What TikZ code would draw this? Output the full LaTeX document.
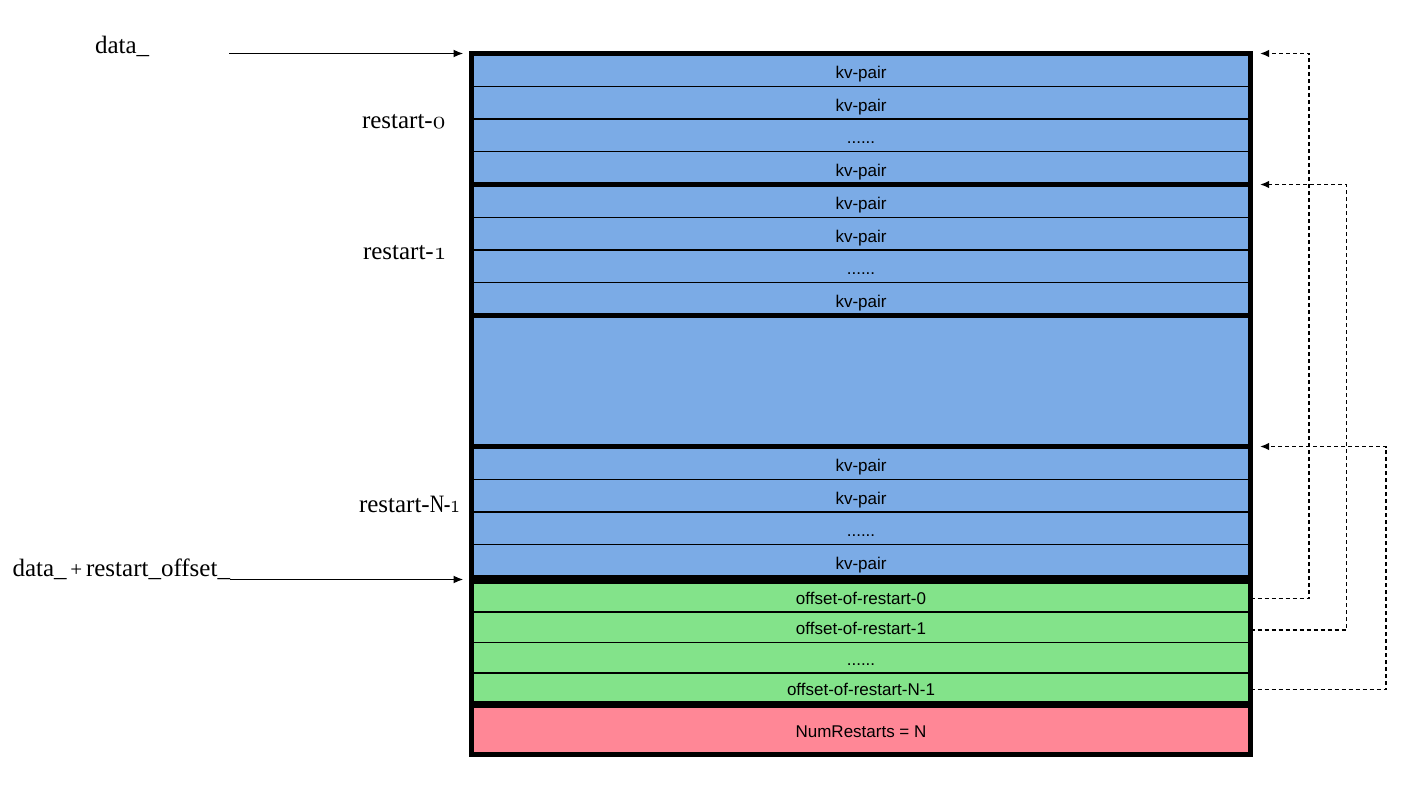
\documentclass[tikz,border=0pt]{standalone}
\usepackage{fontspec}
\newfontfamily\boxfont{Liberation Sans}
\newfontfamily\labelfont{Liberation Serif}
\usetikzlibrary{arrows.meta,calc}

\definecolor{kvblue}{RGB}{123,171,230}
\definecolor{offgreen}{RGB}{131,227,138}
\definecolor{numpink}{RGB}{255,135,150}

% old-style digits from the math italic font, freely scalable
\DeclareFontFamily{OML}{osd}{\skewchar\font=127}
\DeclareFontShape{OML}{osd}{m}{it}{<->cmmi10}{}
\newcommand\osdigit[1]{{\usefont{OML}{osd}{m}{it}#1}}

\tikzset{
  row/.style={rectangle, draw=black, line width=1.2pt, inner sep=0pt, outer sep=0pt,
    minimum width=779pt, anchor=north west, text height=15pt, text depth=0pt,
    font=\boxfont\fontsize{17}{20}\selectfont},
  kvrow/.style={row, fill=kvblue, minimum height=32.75pt, text height=17pt},
  offrow/.style={row, fill=offgreen, minimum height=30.5pt},
  blockbox/.style={rectangle, draw=black, line width=5pt, inner sep=0pt, outer sep=0pt,
    minimum width=779pt, anchor=north west},
  lbl/.style={inner sep=0pt, outer sep=0pt, font=\labelfont\fontsize{25}{28}\selectfont},
  ptr/.style={line width=1.8pt, -{Latex[length=10pt,width=8pt]}},
  dptr/.style={line width=1.5pt, dash pattern=on 4pt off 3pt, -{Latex[length=9pt,width=7.5pt]}}
}

\begin{document}
\begin{tikzpicture}[x=1pt, y=-1pt]
\useasboundingbox (0,0) rectangle (1418,798);

% restart-0 entries
\node[kvrow] (a0) at (471.5,53.5)   {kv-pair};
\node[kvrow] (a1) at (471.5,86.25)  {kv-pair};
\node[kvrow] (a2) at (471.5,119)    {......};
\node[kvrow] (a3) at (471.5,151.75) {kv-pair};
% restart-1 entries
\node[kvrow] (c0) at (471.5,184.5)  {kv-pair};
\node[kvrow] (c1) at (471.5,217.25) {kv-pair};
\node[kvrow] (c2) at (471.5,250)    {......};
\node[kvrow] (c3) at (471.5,282.75) {kv-pair};
% the restarts in between
\node[row, fill=kvblue, minimum height=131pt] (mid) at (471.5,315.5) {};
% restart-N-1 entries
\node[kvrow] (n0) at (471.5,446.5)  {kv-pair};
\node[kvrow] (n1) at (471.5,479.25) {kv-pair};
\node[kvrow] (n2) at (471.5,512)    {......};
\node[kvrow] (n3) at (471.5,544.75) {kv-pair};
% restart offsets
\node[offrow] (g0) at (471.5,581.5) {offset-of-restart-0};
\node[offrow] (g1) at (471.5,612)   {offset-of-restart-1};
\node[offrow] (g2) at (471.5,642.5) {......};
\node[offrow] (g3) at (471.5,673)   {offset-of-restart-N-1};
% trailer
\node[row, fill=numpink, minimum height=49pt] (num) at (471.5,705.5) {NumRestarts = N};

% thick outlines of each group
\node[blockbox, minimum height=131pt] (b0) at (471.5,53.5) {};
\node[blockbox, minimum height=131pt] (b1) at (471.5,184.5) {};
\node[blockbox, minimum height=131pt] (bm) at (471.5,315.5) {};
\node[blockbox, minimum height=131pt] (bn) at (471.5,446.5) {};
\node[blockbox, minimum height=122pt] (bg) at (471.5,581.5) {};
\node[blockbox, minimum height=49pt]  (bp) at (471.5,705.5) {};

% labels on the left
\node[lbl, anchor=base west] (data) at (95,53.3) {data\_};
\node[lbl, anchor=base west] (r0) at (362,128) {restart-\osdigit{0}};
\node[lbl, anchor=base west] (r1) at (363,259.3) {restart-\osdigit{1}};
\node[lbl, anchor=base west] (rn) at (359,512.3)
  {restart-\scalebox{0.8}[1]{N\kern-0.5pt-\kern-0.5pt\osdigit{1}}};
\node[lbl, anchor=base east] (off) at (230,576.7)
  {data\_\hspace{0.15em}{\fontsize{21}{22}\selectfont+}\hspace{0.15em}restart\_offset\_};

% pointers into the block
\coordinate (dstart) at (229,53.5);
\draw[ptr] (dstart) -- ([xshift=-8pt]b0.north west);
\coordinate (tip2) at ($(bn.south west)!0.5!(bg.north west)+(-8,0)$);
\draw[ptr] (off.east |- tip2) -- (tip2);

% offsets pointing back to their restart points
\draw[dptr] ([yshift=-1.75pt]g0.east) -| ([xshift=58.5pt]b0.north east) -- ([xshift=9.5pt]b0.north east);
\draw[dptr] ([yshift=-2.75pt]g1.east) -| ([xshift=96pt]b1.north east) -- ([xshift=9.5pt]b1.north east);
\draw[dptr] ([yshift=-1.25pt]g3.east) -| ([xshift=135.5pt]bn.north east) -- ([xshift=9.5pt]bn.north east);
\end{tikzpicture}
\end{document}
